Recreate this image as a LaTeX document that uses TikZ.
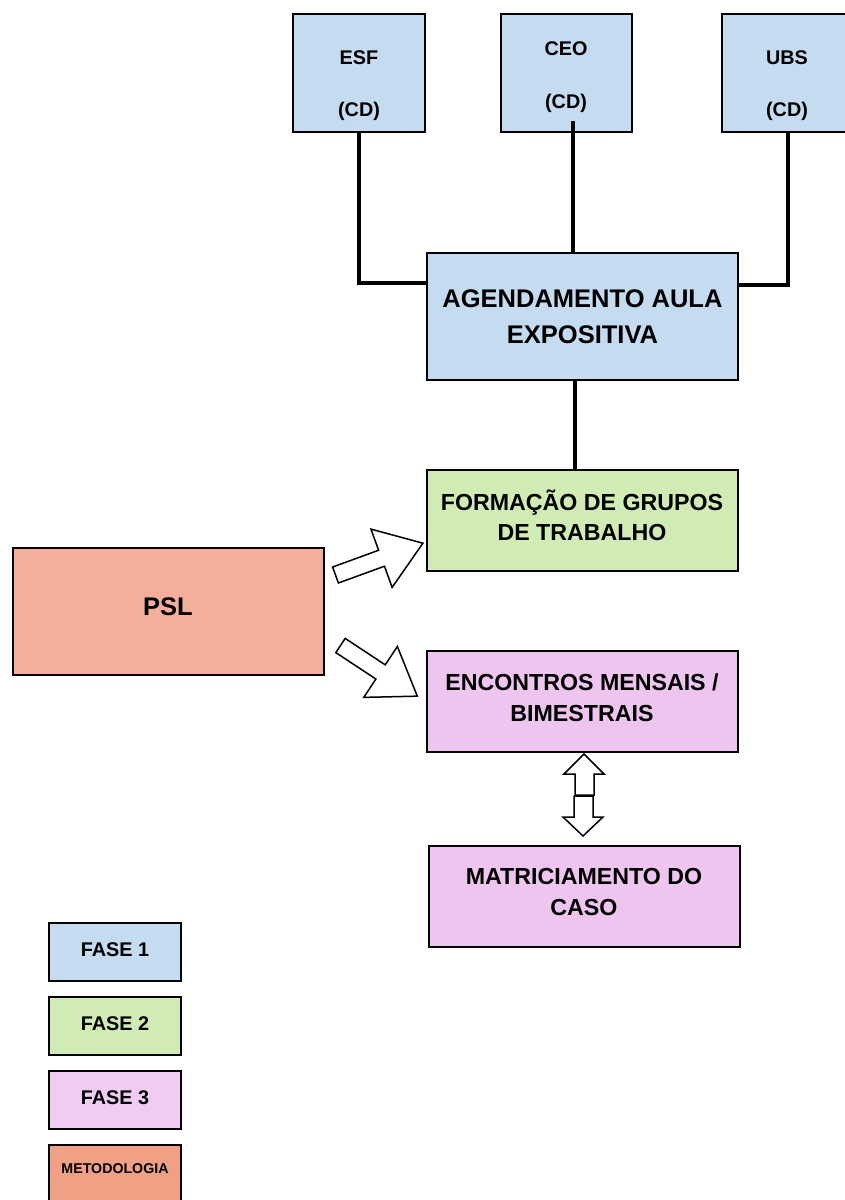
\documentclass[tikz,border=0pt]{standalone}
\usepackage{fontspec}
\setmainfont{Liberation Sans}
\definecolor{faseone}{HTML}{C5DBF0}
\definecolor{fasetwo}{HTML}{D0EBB4}
\definecolor{fasethree}{HTML}{EDC5EF}
\definecolor{fasethreeleg}{HTML}{F0CCF3}
\definecolor{pslcol}{HTML}{F5AE9C}
\definecolor{metodcol}{HTML}{F0A185}
\begin{document}
\begin{tikzpicture}[x=1pt,y=-1pt,
  box/.style={draw=black, line width=2.9pt, inner sep=0pt, outer sep=0pt},
  conn/.style={draw=black, line width=3.6pt, line join=miter},
  blockarrow/.style={draw=black, fill=white, line width=1.5pt, line join=miter},
  bigtxt/.style={font=\bfseries\fontsize{25.5}{30}\selectfont, anchor=base, inner sep=0pt},
  midtxt/.style={font=\bfseries\fontsize{23.2}{28}\selectfont, anchor=base, inner sep=0pt},
  smalltxt/.style={font=\bfseries\fontsize{19.8}{24}\selectfont, anchor=base, inner sep=0pt},
  tinytxt/.style={font=\bfseries\fontsize{14.2}{17}\selectfont, anchor=base, inner sep=0pt}]
\useasboundingbox (0,0) rectangle (845,1200);

% top boxes
\node[box, fill=faseone, minimum width=132pt, minimum height=118pt] (esf) at (359,73) {};
\node[smalltxt] (esfA) at (359,64) {ESF};
\node[smalltxt] (esfB) at (359,116) {(CD)};
\node[box, fill=faseone, minimum width=131pt, minimum height=118pt] (ceo) at (566.5,73) {};
\node[smalltxt] (ceoA) at (566,55) {CEO};
\node[smalltxt] (ceoB) at (566,108) {(CD)};
\node[box, fill=faseone, minimum width=132pt, minimum height=118pt] (ubs) at (788,73) {};
\node[smalltxt] (ubsA) at (787,64) {UBS};
\node[smalltxt] (ubsB) at (787,116) {(CD)};

% agenda
\node[box, fill=faseone, minimum width=311pt, minimum height=127pt] (agenda) at (582.5,316.5) {};
\node[bigtxt] (agA) at (582.5,307.5) {AGENDAMENTO AULA};
\node[bigtxt] (agB) at (582.5,343) {EXPOSITIVA};

% formacao
\node[box, fill=fasetwo, minimum width=311pt, minimum height=101pt] (form) at (582.5,520.5) {};
\node[midtxt] (foA) at (582,510) {FORMAÇÃO DE GRUPOS};
\node[midtxt] (foB) at (582,540.5) {DE TRABALHO};

% PSL
\node[box, fill=pslcol, minimum width=311pt, minimum height=127pt] (psl) at (168.5,611.5) {};
\node[bigtxt] (pslT) at (168,615) {PSL};

% encontros
\node[box, fill=fasethree, minimum width=311pt, minimum height=101pt] (enc) at (582.5,701.5) {};
\node[midtxt] (enA) at (582,690) {ENCONTROS MENSAIS /};
\node[midtxt] (enB) at (582,721) {BIMESTRAIS};

% matriciamento
\node[box, fill=fasethree, minimum width=311pt, minimum height=101pt] (mat) at (584.5,896.5) {};
\node[midtxt] (maA) at (584,884) {MATRICIAMENTO DO};
\node[midtxt] (maB) at (584,915) {CASO};

% legend
\node[box, fill=faseone, minimum width=132pt, minimum height=58pt] (leg1) at (115,952) {};
\node[smalltxt] (leg1T) at (115,956) {FASE 1};
\node[box, fill=fasetwo, minimum width=132pt, minimum height=58pt] (leg2) at (115,1026) {};
\node[smalltxt] (leg2T) at (115,1030) {FASE 2};
\node[box, fill=fasethreeleg, minimum width=132pt, minimum height=58pt] (leg3) at (115,1100) {};
\node[smalltxt] (leg3T) at (115,1104) {FASE 3};
\node[box, fill=metodcol, minimum width=132pt, minimum height=58pt] (leg4) at (115,1174) {};
\node[tinytxt] (leg4T) at (115,1173) {METODOLOGIA};

% connectors
\draw[conn] (esf.south) |- ([yshift=33.5pt]agenda.west);
\coordinate (ceoS) at (573,121);
\draw[conn] (ceoS) -- (ceoS |- agenda.north);
\draw[conn] (ubs.south) |- ([yshift=31.5pt]agenda.east);
\draw[conn] ([xshift=-7.5pt]agenda.south) -- ([xshift=-7.5pt]form.north);

% block arrows from PSL
\draw[blockarrow, shift={(335.5,575)}, rotate=20]
  (0,-8.5) -- (49,-8.5) -- (49,-31) -- (93,0) -- (49,31) -- (49,8.5) -- (0,8.5) -- cycle;
\draw[blockarrow, shift={(340.5,645.5)}, rotate=-33.4]
  (0,-8.5) -- (48,-8.5) -- (48,-30.5) -- (92,0) -- (48,30.5) -- (48,8.5) -- (0,8.5) -- cycle;

% double arrow between encontros and matriciamento
\draw[blockarrow] (575,795) -- (575,774) -- (564,774) -- (584,754) -- (604,774) -- (594,774) -- (594,795) -- cycle;
\draw[blockarrow] (574,796) -- (574,817) -- (563,817) -- (583,836) -- (603,817) -- (593,817) -- (593,796) -- cycle;
\end{tikzpicture}
\end{document}
